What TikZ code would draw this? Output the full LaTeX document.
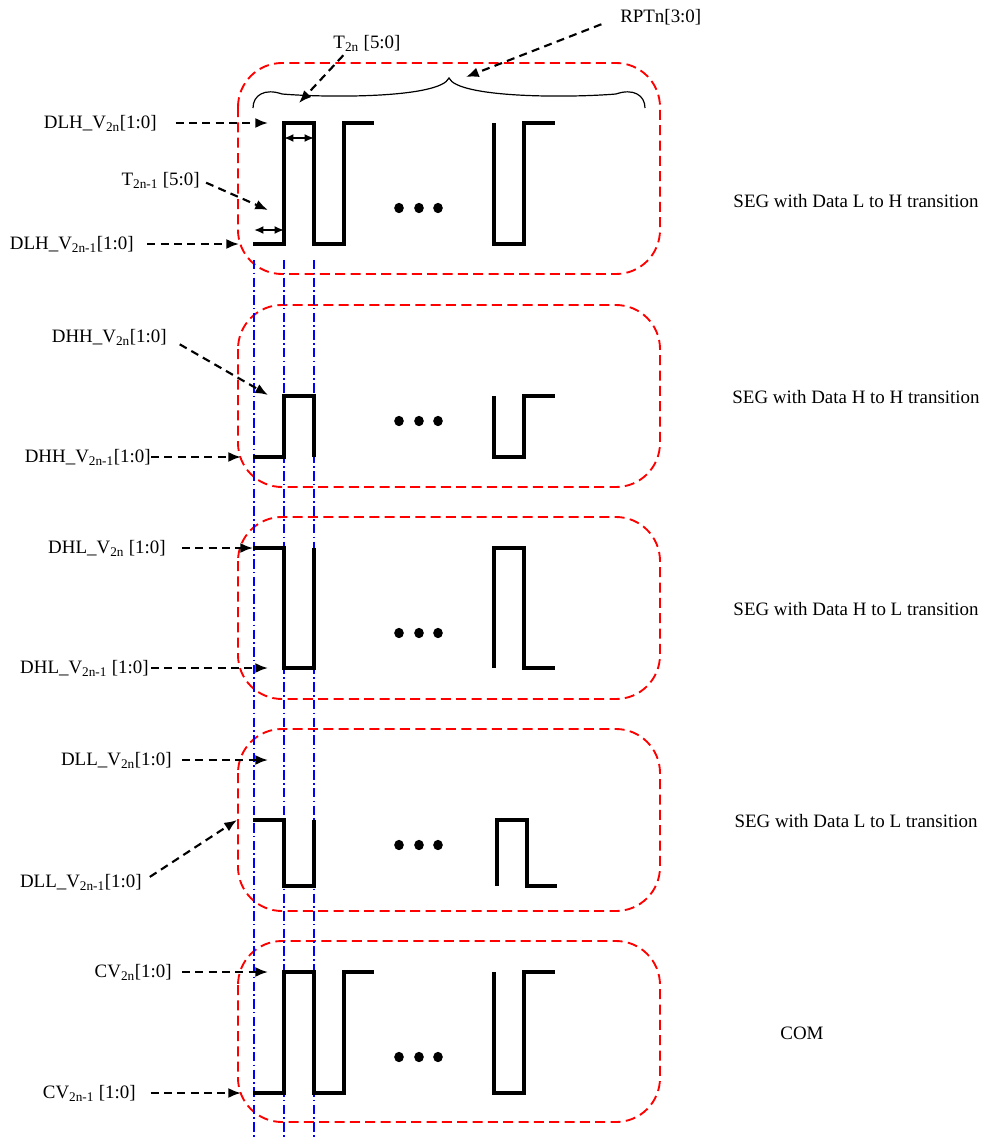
\documentclass[tikz,border=0pt]{standalone}
\usepackage{fontspec}
\setmainfont{Liberation Serif}
\usetikzlibrary{arrows.meta,calc}
\tikzset{
  redbox/.style={draw=red, line width=1.4pt, dash pattern=on 7.5pt off 4pt, rounded corners=33pt},
  blueln/.style={draw=blue, line width=1.1pt, dash pattern=on 7pt off 2.5pt on 1.2pt off 2.5pt},
  wave/.style={draw=black, line width=2.3pt, line join=miter},
  darr/.style={draw=black, line width=1.6pt, dash pattern=on 6pt off 4pt, -{Latex[length=9.5pt,width=7.5pt]}},
  dimarr/.style={draw=black, line width=1.5pt, {Latex[length=7pt,width=6pt]}-{Latex[length=7pt,width=6pt]}},
  lbl/.style={inner sep=0pt, font=\fontsize{14.2}{16}\selectfont},
  dotf/.style={fill=black},
}
\begin{document}
\begin{tikzpicture}[x=0.75pt,y=-0.75pt]
\useasboundingbox (0,0) rectangle (985,1139);

% red dashed group boxes
\draw[redbox] (238,63) rectangle (660,274);
\draw[redbox] (238,305) rectangle (660,487);
\draw[redbox] (238,517) rectangle (660,699);
\draw[redbox] (238,729) rectangle (660,911);
\draw[redbox] (238,941) rectangle (660,1122);

% blue dash-dot guide lines
\draw[blueln] (254,260) -- (254,1139);
\draw[blueln] (284,260) -- (284,1139);
\draw[blueln] (314,260) -- (314,1139);

% waveform 1 : L to H
\draw[wave] (253,244) -- (284,244) -- (284,123) -- (314,123) -- (314,244) -- (344,244) -- (344,123) -- (374,123);
\draw[wave] (494,123) -- (494,244) -- (524,244) -- (524,123) -- (555,123);
% waveform 2 : H to H
\draw[wave] (253,457) -- (284,457) -- (284,396) -- (314,396) -- (314,457);
\draw[wave] (494,396) -- (494,457) -- (524,457) -- (524,396) -- (555,396);
% waveform 3 : H to L
\draw[wave] (253,548) -- (284,548) -- (284,668) -- (314,668) -- (314,548);
\draw[wave] (494,668) -- (494,548) -- (524,548) -- (524,668) -- (555,668);
% waveform 4 : L to L
\draw[wave] (253,820) -- (284,820) -- (284,886) -- (314,886) -- (314,820);
\draw[wave] (497,886) -- (497,820) -- (527,820) -- (527,886) -- (557,886);
% waveform 5 : COM
\draw[wave] (253,1093) -- (284,1093) -- (284,972) -- (314,972) -- (314,1093) -- (344,1093) -- (344,972) -- (374,972);
\draw[wave] (494,972) -- (494,1093) -- (524,1093) -- (524,972) -- (555,972);

% ellipsis dots
\foreach \yy in {208,421,633,845,1057}{
  \fill[dotf] (399,\yy) ellipse[x radius=3.6pt, y radius=3.9pt];
  \fill[dotf] (419,\yy) ellipse[x radius=3.6pt, y radius=3.9pt];
  \fill[dotf] (438,\yy) ellipse[x radius=3.6pt, y radius=3.9pt];
}

% brace
\draw[line width=0.9pt] (253,108) .. controls (253,95) and (265,88) .. (282,94)
  .. controls (330,98) and (440,98) .. (449,78)
  .. controls (458,98) and (568,98) .. (616,94)
  .. controls (633,88) and (645,95) .. (645,108);

% dimension arrows
\coordinate (d1a) at (284,138);
\coordinate (d1b) at (314,138);
\coordinate (d2a) at (254,230);
\coordinate (d2b) at (284,230);
\draw[dimarr] (d1a) -- (d1b);
\draw[dimarr] (d2a) -- (d2b);

% arrow targets
\coordinate (tdlh2n) at (268,123);
\coordinate (ttm1) at (268,210);
\coordinate (tdlh1) at (239,244);
\coordinate (tt2n) at (299,103);
\coordinate (trpt) at (466,77);
\coordinate (tdhh2n) at (268,395);
\coordinate (tdhh1) at (241,457);
\coordinate (tdhl2n) at (253,548);
\coordinate (tdhl1) at (268,668);
\coordinate (tdll2n) at (268,760);
\coordinate (tdll1) at (237,820);
\coordinate (tcv2n) at (268,972);
\coordinate (tcv1) at (241,1093);

% labels
\node[lbl, anchor=east] (Ldlh2n) at (157,123) {DLH\_V\textsubscript{2n}[1:0]};
\node[lbl, anchor=east] (Ltm1) at (200,180) {T\textsubscript{2n-1} [5:0]};
\node[lbl, anchor=east] (Ldlh1) at (134,244) {DLH\_V\textsubscript{2n-1}[1:0]};
\node[lbl] (Lt2n) at (367,43) {T\textsubscript{2n} [5:0]};
\node[lbl, anchor=west] (Lrpt) at (620,17) {RPTn[3:0]};
\node[lbl, anchor=east] (Ldhh2n) at (167,337) {DHH\_V\textsubscript{2n}[1:0]};
\node[lbl, anchor=east] (Ldhh1) at (151,457) {DHH\_V\textsubscript{2n-1}[1:0]};
\node[lbl, anchor=east] (Ldhl2n) at (166,548) {DHL\_V\textsubscript{2n} [1:0]};
\node[lbl, anchor=east] (Ldhl1) at (149,668) {DHL\_V\textsubscript{2n-1} [1:0]};
\node[lbl, anchor=east] (Ldll2n) at (172,760) {DLL\_V\textsubscript{2n}[1:0]};
\node[lbl, anchor=east] (Ldll1) at (142,882) {DLL\_V\textsubscript{2n-1}[1:0]};
\node[lbl, anchor=east] (Lcv2n) at (172,972) {CV\textsubscript{2n}[1:0]};
\node[lbl, anchor=east] (Lcv1) at (136,1093) {CV\textsubscript{2n-1} [1:0]};

\node[lbl] (Sseg1) at (856,201) {SEG with Data L to H transition};
\node[lbl] (Sseg2) at (856,397) {SEG with Data H to H transition};
\node[lbl] (Sseg3) at (856,609) {SEG with Data H to L transition};
\node[lbl] (Sseg4) at (856,821) {SEG with Data L to L transition};
\node[lbl] (Scom) at (802,1033) {COM};

% dashed arrows
\draw[darr, shorten <=14pt] (Ldlh2n.east) -- (tdlh2n);
\draw[darr, shorten <=5pt] (Ltm1.east) -- (ttm1);
\draw[darr, shorten <=10pt] (Ldlh1.east) -- (tdlh1);
\draw[darr] ($(Lt2n.south west)!0.15!(Lt2n.south east)+(0,4)$) -- (tt2n);
\draw[darr, shorten <=15pt] (Lrpt.west) -- (trpt);
\draw[darr, shorten <=11pt] (Ldhh2n.east) -- (tdhh2n);
\draw[darr] (Ldhh1.east) -- (tdhh1);
\draw[darr, shorten <=12pt] (Ldhl2n.east) -- (tdhl2n);
\draw[darr, shorten <=1.5pt] (Ldhl1.east) -- (tdhl1);
\draw[darr, shorten <=7.5pt] (Ldll2n.east) -- (tdll2n);
\draw[darr, shorten <=7pt] (Ldll1.east) -- (tdll1);
\draw[darr, shorten <=7.5pt] (Lcv2n.east) -- (tcv2n);
\draw[darr, shorten <=11pt] (Lcv1.east) -- (tcv1);
\end{tikzpicture}
\end{document}
